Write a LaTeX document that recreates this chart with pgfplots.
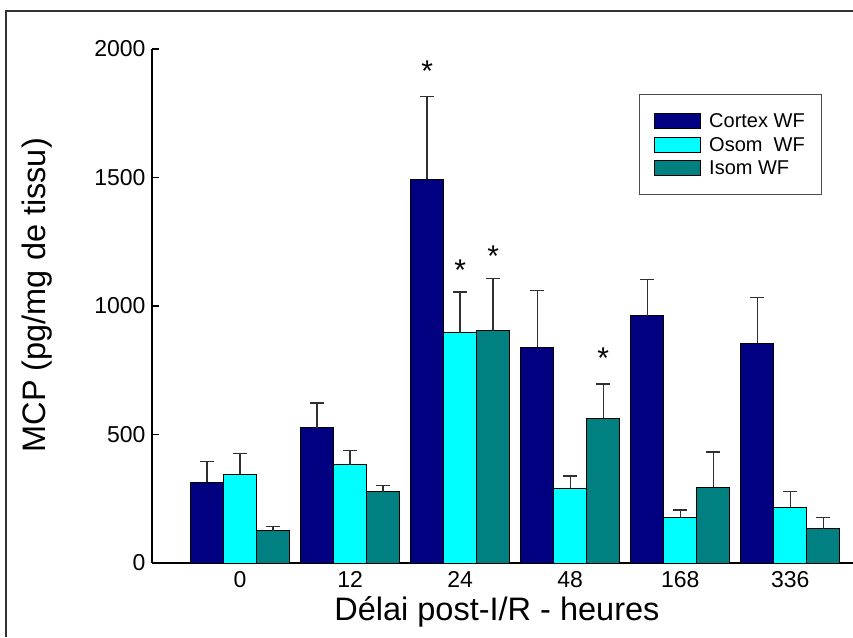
\documentclass[border=0pt]{standalone}
\usepackage{fontspec}
\setmainfont{Liberation Sans}
\usepackage{pgfplots}
\usepackage{pgfplotstable}
\pgfplotsset{compat=1.18}
\usetikzlibrary{calc}
\definecolor{cortexc}{HTML}{000080}
\definecolor{osomc}{HTML}{00FFFF}
\definecolor{isomc}{HTML}{008080}
\definecolor{errc}{HTML}{303030}

% x = delay index (0,12,24,48,168,336 h), y = mean, e = SEM
\pgfplotstableread{
x y e
0 315 80
1 527 95
2 1494 322
3 840 221
4 963 141
5 856 178
}\tabcortex
\pgfplotstableread{
x y e
0 346 81
1 382 57
2 896 158
3 290 48
4 177 29
5 216 61
}\tabosom
\pgfplotstableread{
x y e
0 125 17
1 278 24
2 904 202
3 564 132
4 294 138
5 134 42
}\tabisom

\begin{document}
\begin{tikzpicture}
\begin{axis}[
    name=ax,
    scale only axis, width=701pt, height=514pt,
    xmin=-0.8, xmax=5.57, ymin=0, ymax=2000,
    axis x line=bottom, axis y line=left,
    axis line style={-, line width=1.3pt},
    ybar=0pt, bar width=33pt,
    clip=false,
    xtick={0,...,5}, xticklabels={0,12,24,48,168,336},
    ytick={0,500,...,2000},
    major x tick style={draw=none},
    tick align=inside, major tick length=7pt,
    tick style={line width=1.2pt, black},
    /pgf/number format/assume math mode=true,
    /pgf/number format/1000 sep={},
    tick label style={font=\fontsize{23}{27}\selectfont},
    yticklabel style={xshift=-3pt},
    xticklabel style={yshift=-5pt},
    xlabel={Délai post-I/R - heures},
    ylabel={MCP (pg/mg de tissu)},
    label style={font=\fontsize{32.5}{38}\selectfont},
    xlabel style={at={(axis description cs:0.492,-0.0953)}, anchor=center},
    ylabel style={at={(axis description cs:-0.164,0.521)}, anchor=center},
    every axis plot/.append style={draw=black, line width=0.8pt,
        error bars/y dir=plus, error bars/y explicit,
        error bars/error bar style={errc, line width=1.3pt},
        error bars/error mark options={rotate=90, mark size=7pt, errc, line width=1.3pt}},
    legend style={at={(rel axis cs:0.956,0.912)}, anchor=north east,
        draw=black!70, line width=0.8pt, inner xsep=15pt, inner ysep=17pt,
        font=\fontsize{20}{24}\selectfont, row sep=4pt,
        cells={anchor=west}},
    legend image code/.code={\draw[#1, line width=0.8pt] (0pt,-7.5pt) rectangle (46pt,7.5pt); \path (52pt,0pt);},
]
\addplot[fill=cortexc] table[x=x, y=y, y error=e] {\tabcortex};
\addplot[fill=osomc] table[x=x, y=y, y error=e] {\tabosom};
\addplot[fill=isomc] table[x=x, y=y, y error=e] {\tabisom};
\legend{Cortex WF, Osom\ \ WF, Isom WF}
\node[font=\fontsize{30}{36}\selectfont] at (axis cs:1.7,1912) {*};
\node[font=\fontsize{30}{36}\selectfont] at (axis cs:2,1140) {*};
\node[font=\fontsize{30}{36}\selectfont] at (axis cs:2.3,1192) {*};
\node[font=\fontsize{30}{36}\selectfont] at (axis cs:3.3,796) {*};
\end{axis}
\draw[line width=2pt, black!80] ($(ax.south west)+(-146pt,-74pt)$) -- ($(ax.south west)+(-146pt,552pt)$) -- ($(ax.south west)+(701pt,552pt)$);
\pgfresetboundingbox
\useasboundingbox ($(ax.south west)+(-152pt,-74pt)$) rectangle ($(ax.south west)+(701pt,563pt)$);
\end{tikzpicture}
\end{document}
